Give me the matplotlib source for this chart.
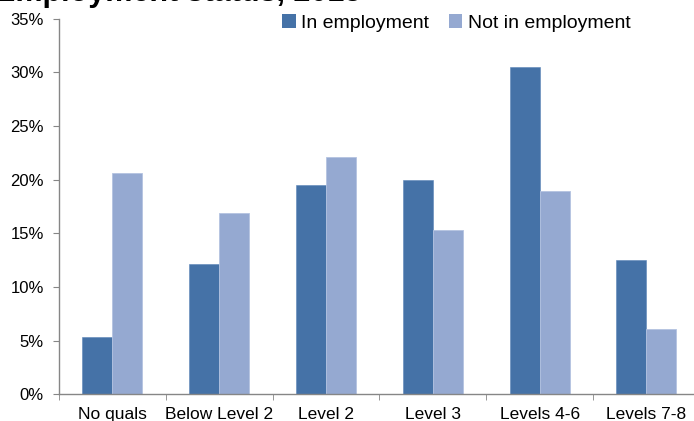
import matplotlib
matplotlib.use("Agg")
import matplotlib.pyplot as plt
import numpy as np
from matplotlib.patches import Patch
from matplotlib.ticker import FuncFormatter, FixedLocator

categories = ["No quals", "Below Level 2", "Level 2", "Level 3", "Levels 4-6", "Levels 7-8"]
in_employment = [5.35, 12.15, 19.55, 20.0, 30.5, 12.5]
not_in_employment = [20.6, 16.9, 22.15, 15.3, 19.0, 6.07]
series_names = ["In employment", "Not in employment"]
title_text = "Employment status, 2015"

plt.rcParams['font.family'] = ['Liberation Sans', 'DejaVu Sans']

dark = "#4572A7"
light = "#95A9D1"
axis_gray = "#868686"

fig = plt.figure(figsize=(6.94, 4.21), dpi=100)
ax = fig.add_axes([59/694, (421-394.4)/421, 640.8/694, (394.4-18.8)/421])

x = np.arange(len(categories))
w = 0.28
ax.bar(x - w/2, in_employment, w, color=dark, edgecolor="#5b85b8", linewidth=0.4)
ax.bar(x + w/2, not_in_employment, w, color=light, edgecolor="#b4c3e1", linewidth=0.6)

ax.set_xlim(-0.5, len(categories) - 0.5)
ax.set_ylim(0, 35)
ax.set_yticks(np.arange(0, 36, 5))
ax.yaxis.set_major_formatter(FuncFormatter(lambda v, p: f"{int(v)}%"))
ax.set_xticks(x)
ax.set_xticklabels(categories)
ax.xaxis.set_minor_locator(FixedLocator(np.arange(-0.5, len(categories), 1.0)))

for s in ["top", "right"]:
    ax.spines[s].set_visible(False)
for s in ["left", "bottom"]:
    ax.spines[s].set_color(axis_gray)
    ax.spines[s].set_linewidth(1.0)

ax.tick_params(axis='y', which='major', length=4, color=axis_gray, labelsize=12, pad=7)
ax.tick_params(axis='x', which='major', length=0, labelsize=12.5, pad=9)
ax.tick_params(axis='x', which='minor', length=4, color=axis_gray)

handles = [Patch(facecolor=dark, edgecolor='none'), Patch(facecolor=light, edgecolor='none')]
fig.legend(handles, series_names, loc='center left', bbox_to_anchor=(282/694, 1 - 23/421),
           frameon=False, fontsize=14, handlelength=0.7, handleheight=0.7,
           handletextpad=0.3, columnspacing=1.0, ncol=2, borderaxespad=0, borderpad=0)

fig.text(-5/694, 1 - 0.5/421, title_text, fontsize=22, fontweight='bold', va='baseline', ha='left')

fig.savefig("out.png", dpi=100)
